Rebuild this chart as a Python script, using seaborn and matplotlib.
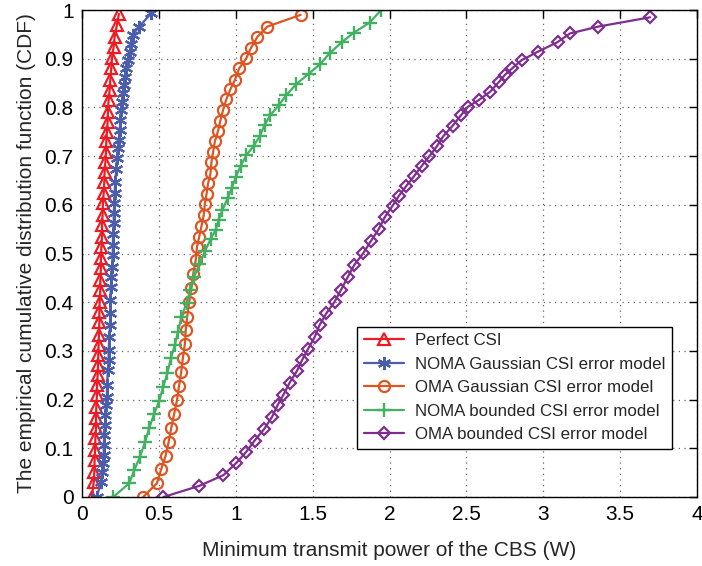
import matplotlib
matplotlib.use("Agg")
import matplotlib.pyplot as plt
import seaborn as sns
import numpy as np

# ---------------- data ----------------
perfect_x = [0.065, 0.076, 0.080, 0.082, 0.085, 0.087, 0.091, 0.091, 0.093, 0.097,
             0.097, 0.102, 0.104, 0.106, 0.108, 0.110, 0.113, 0.113, 0.115, 0.119,
             0.119, 0.123, 0.123, 0.126, 0.130, 0.130, 0.134, 0.136, 0.141, 0.145,
             0.147, 0.152, 0.156, 0.158, 0.162, 0.167, 0.169, 0.173, 0.180, 0.184,
             0.190, 0.195, 0.206, 0.212, 0.227, 0.240]
perfect_y = [0.000, 0.031, 0.052, 0.076, 0.097, 0.121, 0.141, 0.162, 0.185, 0.209,
             0.230, 0.251, 0.271, 0.292, 0.312, 0.333, 0.360, 0.380, 0.401, 0.425,
             0.446, 0.470, 0.490, 0.514, 0.534, 0.559, 0.579, 0.603, 0.624, 0.647,
             0.668, 0.688, 0.709, 0.730, 0.750, 0.771, 0.791, 0.815, 0.836, 0.856,
             0.880, 0.901, 0.925, 0.945, 0.969, 0.992]

noma_gauss_x = [0.097, 0.123, 0.130, 0.134, 0.141, 0.141, 0.145, 0.152, 0.152, 0.156,
                0.162, 0.162, 0.169, 0.173, 0.173, 0.178, 0.182, 0.184, 0.184, 0.188,
                0.190, 0.195, 0.199, 0.201, 0.201, 0.206, 0.206, 0.210, 0.212, 0.216,
                0.223, 0.227, 0.234, 0.238, 0.245, 0.249, 0.255, 0.260, 0.264, 0.271,
                0.277, 0.286, 0.299, 0.310, 0.320, 0.329, 0.372, 0.450]
noma_gauss_y = [0.000, 0.031, 0.051, 0.070, 0.086, 0.107, 0.127, 0.148, 0.168, 0.189,
                0.206, 0.230, 0.261, 0.282, 0.302, 0.329, 0.353, 0.377, 0.405, 0.432,
                0.452, 0.473, 0.497, 0.517, 0.541, 0.562, 0.583, 0.603, 0.624, 0.647,
                0.674, 0.696, 0.717, 0.733, 0.754, 0.774, 0.795, 0.812, 0.829, 0.846,
                0.863, 0.880, 0.897, 0.914, 0.930, 0.949, 0.966, 0.993]

oma_gauss_x = [0.398, 0.487, 0.515, 0.544, 0.563, 0.580, 0.599, 0.618, 0.631, 0.645,
               0.656, 0.669, 0.675, 0.684, 0.697, 0.712, 0.723, 0.740, 0.748, 0.762,
               0.777, 0.792, 0.799, 0.810, 0.820, 0.836, 0.842, 0.853, 0.864, 0.885,
               0.900, 0.918, 0.939, 0.965, 0.994, 1.022, 1.069, 1.097, 1.141, 1.206,
               1.422]
oma_gauss_y = [0.000, 0.028, 0.057, 0.085, 0.112, 0.141, 0.170, 0.199, 0.228, 0.256,
               0.285, 0.314, 0.343, 0.370, 0.400, 0.429, 0.457, 0.487, 0.514, 0.534,
               0.556, 0.579, 0.602, 0.622, 0.644, 0.665, 0.688, 0.709, 0.730, 0.752,
               0.773, 0.795, 0.817, 0.837, 0.856, 0.880, 0.901, 0.921, 0.945, 0.966,
               0.990]

noma_bound_x = [0.203, 0.307, 0.340, 0.377, 0.409, 0.437, 0.468, 0.502, 0.528, 0.556,
                0.578, 0.604, 0.624, 0.647, 0.680, 0.704, 0.728, 0.764, 0.800, 0.837,
                0.869, 0.889, 0.913, 0.948, 0.975, 1.000, 1.032, 1.069, 1.117, 1.156,
                1.188, 1.225, 1.281, 1.329, 1.394, 1.474, 1.550, 1.610, 1.690, 1.766,
                1.870, 1.946]
noma_bound_y = [0.000, 0.028, 0.055, 0.083, 0.112, 0.141, 0.170, 0.197, 0.226, 0.255,
                0.285, 0.312, 0.339, 0.370, 0.398, 0.425, 0.452, 0.478, 0.505, 0.530,
                0.548, 0.569, 0.589, 0.614, 0.635, 0.657, 0.680, 0.702, 0.721, 0.741,
                0.764, 0.784, 0.805, 0.825, 0.848, 0.869, 0.889, 0.911, 0.934, 0.953,
                0.974, 1.000]

oma_bound_x = [0.530, 0.764, 0.920, 1.004, 1.069, 1.123, 1.186, 1.237, 1.273, 1.310,
               1.351, 1.398, 1.433, 1.470, 1.513, 1.545, 1.589, 1.643, 1.686, 1.729,
               1.770, 1.830, 1.880, 1.930, 1.970, 2.020, 2.060, 2.110, 2.160, 2.210,
               2.260, 2.310, 2.350, 2.410, 2.465, 2.509, 2.580, 2.654, 2.714, 2.751,
               2.797, 2.859, 2.963, 3.093, 3.175, 3.359, 3.695]
oma_bound_y = [0.000, 0.023, 0.045, 0.070, 0.093, 0.116, 0.140, 0.165, 0.189, 0.210,
               0.235, 0.259, 0.282, 0.304, 0.328, 0.353, 0.377, 0.401, 0.426, 0.452,
               0.476, 0.501, 0.526, 0.550, 0.575, 0.598, 0.618, 0.639, 0.659, 0.680,
               0.700, 0.721, 0.741, 0.762, 0.784, 0.801, 0.815, 0.832, 0.853, 0.867,
               0.880, 0.897, 0.914, 0.934, 0.952, 0.966, 0.985]

labels = ["Perfect CSI",
          "NOMA Gaussian CSI error model",
          "OMA Gaussian CSI error model",
          "NOMA bounded CSI error model",
          "OMA bounded CSI error model"]

x_ticks = [0, 0.5, 1, 1.5, 2, 2.5, 3, 3.5, 4]
y_ticks = [0, 0.1, 0.2, 0.3, 0.4, 0.5, 0.6, 0.7, 0.8, 0.9, 1]

# ---------------- style ----------------
sns.set_theme(style="white")
plt.rcParams["font.family"] = ["Liberation Sans", "DejaVu Sans"]

fig = plt.figure(figsize=(7.02, 5.66), dpi=100)
ax = fig.add_axes([82 / 702, 1 - 497 / 566, 615 / 702, 487 / 566])

series = [
    (perfect_x, perfect_y, "#ED1C24", "^", 8.5, 1.6),
    (noma_gauss_x, noma_gauss_y, "#4A5EAC", (6, 2, 0), 9.5, 1.6),
    (oma_gauss_x, oma_gauss_y, "#DD5522", "o", 8, 1.6),
    (noma_bound_x, noma_bound_y, "#44B063", "+", 10.5, 1.7),
    (oma_bound_x, oma_bound_y, "#7E2F8E", "D", 6.5, 1.6),
]

for (xs, ys, col, mk, ms, lw), lab in zip(series, labels):
    sns.lineplot(x=xs, y=ys, ax=ax, sort=False, estimator=None, color=col,
                 linewidth=1.6, marker=mk, markersize=ms,
                 markerfacecolor="none", markeredgecolor=col,
                 markeredgewidth=lw, label=lab)

ax.set_xlim(0, 4)
ax.set_ylim(0, 1)
ax.set_xticks(x_ticks)
ax.set_xticklabels(["0", "0.5", "1", "1.5", "2", "2.5", "3", "3.5", "4"])
ax.set_yticks(y_ticks)
ax.set_yticklabels(["0", "0.1", "0.2", "0.3", "0.4", "0.5", "0.6", "0.7", "0.8", "0.9", "1"])

ax.grid(True, color="#666666", linestyle=(0, (1, 3.5)), linewidth=0.9)
for sp in ax.spines.values():
    sp.set_color("black")
    sp.set_linewidth(1.0)
ax.tick_params(direction="in", length=6, width=1, top=True, right=True,
               labelsize=15, colors="black", pad=6)

ax.set_xlabel("Minimum transmit power of the CBS (W)", fontsize=15, labelpad=12)
ax.set_ylabel("The empirical cumulative distribution function (CDF)", fontsize=15, labelpad=6)

leg = ax.legend(loc="lower right", bbox_to_anchor=(0.959, 0.0986), borderaxespad=0,
                fontsize=12.2, frameon=True, fancybox=False, framealpha=1,
                edgecolor="black", handlelength=2.4, labelspacing=0.5,
                borderpad=0.4, handletextpad=0.6)
leg.get_frame().set_linewidth(1.0)

fig.savefig("out.png", dpi=100)
